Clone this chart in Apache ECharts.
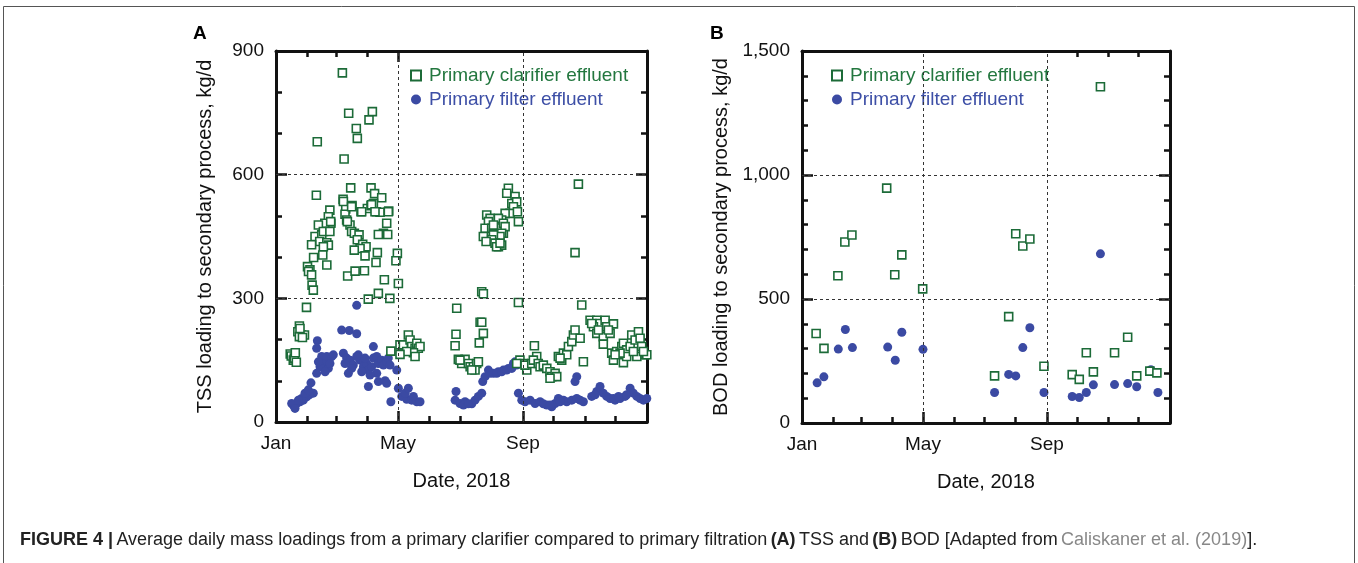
<!DOCTYPE html>
<html>
<head>
<meta charset="utf-8">
<script src="https://cdn.jsdelivr.net/npm/echarts@6/dist/echarts.min.js"></script>
<style>
html,body{margin:0;padding:0;background:#fff;}
#chart{width:1358px;height:563px;}
</style>
</head>
<body>
<div id="chart"></div>
<script>
// ---------- DATA (day of year 2018, kg/d) ----------
const monthStarts = [31, 59, 90, 151, 181, 212, 273, 304, 334];
const majorMonthDays = [120, 243];
const monthLabelDays = [0, 120, 243];
const monthLabels = ['Jan', 'May', 'Sep'];
const seriesNames = ['Primary clarifier effluent', 'Primary filter effluent'];

// Panel A: TSS, primary clarifier effluent
const tssClarifier = [
  [14,165],[15,160],[17,150],[18,155],[20,145],[19,168],
  [23,233],[21.5,219],[25,211],[28,211],[23,207],[26,205],[23.6,227],
  [30,278],[31,377],[33.4,369],[32,365],[35,357],[35.5,332],[36.7,320],
  [40.6,680],[39.7,550],[38.4,450],[45,454],[43,438],[50,435],[35,430],[51.5,429],[46.6,425],
  [46,405],[37,399],[50,381],[53,514],[51.5,498],[54,482],[48,482],[41.7,478],[46.6,462],[53,462],[53.8,486],
  [65.3,847],[71.5,749],[94.8,753],[91.5,733],[79,712],[80,688],[67,638],[73.5,568],[93.5,568],
  [97,554],[104,544],[66,540],[74.8,525],[68.6,517],[83.6,510],[89.9,518],[93.5,525],[95.8,530],
  [98.8,510],[102.4,509],[110.9,512],[108.9,482],[67.9,504],[69.5,490],
  [66.3,535],[74.4,522],[84.3,510],[94,527],[97.4,510],[110.5,510],
  [105.7,458],[100.7,455],[109.9,455],[72.8,478],[70.2,486],[74.4,462],[77.1,458],[81.7,454],[80,442],
  [85.3,431],[88.6,425],[82.7,421],[77,417],[87.6,403],[99.7,411],[98.4,387],[119.4,409],[118,391],
  [70.5,354],[77.8,366],[87,367],[106.6,345],[120.4,336],[100.7,312],[90.8,298],[112,300],
  [122,187],[125.3,187],[130.2,211],[131.9,199],[133.5,183],[136.8,179],[138.5,191],[140,179],[141.7,183],
  [135.2,168],[136.8,159],[128.6,171],[122,164],[113,172],
  [177.8,276],[177.1,213],[176.2,185],[204,215],[200,192],[200.8,242],[202.4,242],[202.4,316],[204,311],
  [238.5,290],[300.8,284],[294.2,411],
  [179.4,152],[182.7,142],[186,152],[189.3,142],[191,134],[194.2,134],[197.5,142],[195.8,126],[192.6,126],[181,150],[199.1,146],
  [228.6,567],[227,555],[235.2,547],[232,530],[236.8,534],[233.6,522],[230.3,506],[237.5,510],[225.4,506],
  [238.5,486],[222,490],[218.8,494],[207.3,502],[210.6,494],[209,486],[205.7,470],[212.2,470],[213.9,458],
  [223.7,458],[204,450],[213.9,478],[223.7,482],[225.4,474],[222,458],[220.4,450],[213.9,454],[212.2,442],
  [215.5,434],[218.8,425],[222,429],[206.7,438],[217,425],[220.4,434],[297.5,577],
  [240,150],[243.4,142],[246.7,126],[245,138],[236.8,142],[254.2,185],[256.5,159],[251.6,142],[253.2,150],
  [258,142],[259.8,134],[263,138],[266.4,130],[269.6,122],[271.3,110],[274.6,118],[276.2,110],[269.6,106],
  [277.8,159],[281.1,150],[282.8,167],[286,163],[287.7,183],[291,195],[292.6,211],[294.2,223],[299.2,203],
  [302.4,146],[279.5,155],
  [309,247],[315.6,247],[318.8,239],[323.8,247],[325.4,231],[332,238],[312.3,231],[315.6,215],[322,207],
  [328.7,215],[322,189],[310.6,239],[317.2,223],[327,223],
  [330.3,167],[335.2,171],[340.2,183],[341.8,191],[345,175],[348.4,183],[350,211],[353.3,199],[356.6,219],
  [358.2,203],[359.8,183],[363.1,163],[364.8,163],[332,150],[341.8,144],[345,159],[355,159],[361.5,171],
  [338.5,167],[333.6,163],[351.6,171]
];

// Panel A: TSS, primary filter effluent
const tssFilter = [
  [79.4,283],[64.6,223],[72.1,222],[79.4,214],[40.7,197],[40,179],[95.8,183],
  [44.9,159],[49.9,159],[54.8,159],[46.6,142],[51.5,130],[43.3,134],[48.3,122],[53.1,142],[41.7,146],[56.4,163],[40,118],
  [34.4,95],[36.7,70],[32.8,66],[30.2,61],[26.9,53],[23.6,49],[20.3,45],[17,41],[15.4,45],[18.7,33],[25.2,57],[22,53],[28.5,70],[31.8,78],
  [66.3,167],[69.5,155],[72.8,150],[76.1,138],[81,163],[82.7,150],[86,134],[89.2,142],[90.9,126],[94.1,134],
  [95.8,155],[99.1,159],[100.7,142],[104,150],[105.7,138],[108.9,146],[110.5,155],[112.2,138],[99.1,118],
  [92.5,114],[84.3,122],[71.2,118],[74.4,130],[67.9,142],[79.4,159],[87.6,155],
  [118.8,126],[90.9,86],[100.7,98],[107.3,100],[108.9,94],[113,49],
  [120.4,82],[123.7,62],[128.6,55],[133.5,53],[138.5,49],[141.7,49],[127,70],[130.2,82],[135.2,62],
  [177.1,74],[176.2,53],[181,45],[186,49],[192.6,44],[195.8,53],[199.1,62],[202.4,70],[184.4,41],[189.3,44],
  [203.4,98],[205.7,110],[209,126],[213.9,118],[218.8,122],[223.7,126],[228.6,130],[233.6,142],[236.8,138],
  [210.6,118],[217.2,118],[222,122],[227,126],[232,130],[235.2,146],[238.5,70],
  [241.8,53],[245,49],[250,53],[254.9,45],[259.8,49],[266.4,41],[271.3,37],[274.6,45],[277.8,57],[282.8,53],
  [286,49],[291,53],[295.9,57],[299.2,53],[302.4,49],[263,44],[269.6,41],[279.5,49],
  [294.2,98],[295.9,110],
  [310.6,62],[315.6,74],[318.8,86],[322,70],[325.4,62],[328.7,57],[333.6,53],[338.5,57],[343.4,62],[348.4,82],
  [351.6,70],[355,62],[358.2,57],[361.5,53],[364.8,57],[314,66],[332,57],[337,62],[345,66]
];

// Panel B: BOD, primary clarifier effluent
const bodClarifier = [
  [14,361],[21.8,301],[35.6,594],[42.5,730],[49.5,758],[84,947],[92,598],[99,678],[119.7,541],
  [191,190],[205,429],[212,763],[219,714],[226,742],[240,229],[268,195],[275,176],[282,283],
  [289,206],[296,1356],[310,283],[323,346],[332,190],[345,209],[352,202]
];
// Panel B: BOD, primary filter effluent
const bodFilter = [
  [15,162],[21.7,186],[36,298],[43,377],[50,304],[85,306],[92.5,253],[99,366],[120,297],
  [191,123],[205,196],[212,190],[219,304],[226,384],[240,123],[268,107],[275,103],[282,123],
  [289,154],[296,682],[310,155],[323,159],[332,146],[346,215],[353,123]
];

// ---------- STYLE ----------
const GREEN = '#1c6b38';
const BLUE = '#3b4aa3';
const GREEN_TXT = '#23773f';
const BLUE_TXT = '#3d4fa6';
const FONT = '"Liberation Sans", Arial, Helvetica, sans-serif';
const AXW = 3;
const TICK_FS = 19;
const NAME_FS = 20;

const grids = [
  {left: 276, top: 51, width: 371, height: 371},
  {left: 802, top: 51, width: 368, height: 372}
];

function xAxes(gi) {
  const base = {gridIndex: gi, type: 'value', min: 0, max: 365, splitLine: {show: false}};
  return [
    Object.assign({}, base, {
      position: 'bottom',
      axisLine: {show: true, onZero: false, lineStyle: {color: '#111', width: AXW}},
      axisTick: {show: true, inside: true, length: 11, customValues: majorMonthDays, lineStyle: {color: '#111', width: 2.5}},
      axisLabel: {show: true, customValues: monthLabelDays, margin: 12, fontSize: TICK_FS, color: '#111', fontFamily: FONT,
        formatter: v => monthLabels[monthLabelDays.indexOf(v)] || ''},
      name: 'Date, 2018', nameLocation: 'middle', nameGap: 49,
      nameTextStyle: {fontSize: NAME_FS, color: '#111', fontFamily: FONT}
    }),
    Object.assign({}, base, {
      position: 'bottom',
      axisLine: {show: false, onZero: false},
      axisTick: {show: true, inside: true, length: 6, customValues: monthStarts, lineStyle: {color: '#111', width: 2.5}},
      axisLabel: {show: false}
    }),
    Object.assign({}, base, {
      position: 'top',
      axisLine: {show: true, onZero: false, lineStyle: {color: '#111', width: AXW}},
      axisTick: {show: true, inside: true, length: 11, customValues: majorMonthDays, lineStyle: {color: '#111', width: 2.5}},
      axisLabel: {show: false}
    }),
    Object.assign({}, base, {
      position: 'top',
      axisLine: {show: false, onZero: false},
      axisTick: {show: true, inside: true, length: 6, customValues: monthStarts, lineStyle: {color: '#111', width: 2.5}},
      axisLabel: {show: false}
    })
  ];
}

function yAxes(gi, max, interval, minorInterval, nameText, gap, fmt) {
  const common = {
    gridIndex: gi, type: 'value', min: 0, max: max, interval: interval,
    splitLine: {show: false},
    axisLine: {show: true, onZero: false, lineStyle: {color: '#111', width: AXW}},
    axisTick: {show: true, inside: true, length: 11, lineStyle: {color: '#111', width: 2.5}}
  };
  const minor = {
    gridIndex: gi, type: 'value', min: 0, max: max, interval: minorInterval,
    splitLine: {show: false}, axisLabel: {show: false},
    axisLine: {show: false, onZero: false},
    axisTick: {show: true, inside: true, length: 6, lineStyle: {color: '#111', width: 2.5}}
  };
  return [
    Object.assign({}, common, {
      position: 'left',
      axisLabel: {show: true, margin: 12, fontSize: TICK_FS, color: '#111', fontFamily: FONT, formatter: fmt},
      name: nameText, nameLocation: 'middle', nameGap: gap, nameRotate: 90,
      nameTextStyle: {fontSize: NAME_FS, color: '#111', fontFamily: FONT}
    }),
    Object.assign({}, common, {position: 'right', axisLabel: {show: false}}),
    Object.assign({}, minor, {position: 'left'}),
    Object.assign({}, minor, {position: 'right'})
  ];
}

const gridLineStyle = {color: '#333', type: [3, 3], width: 1};
function markLines(xs, ys) {
  return {
    silent: true, symbol: 'none', label: {show: false}, animation: false,
    lineStyle: gridLineStyle,
    data: xs.map(v => ({xAxis: v})).concat(ys.map(v => ({yAxis: v})))
  };
}

function legend(left) {
  return {
    left: left, top: 53, orient: 'vertical', itemGap: 5,
    backgroundColor: '#fff', padding: [13, 6, 8, 6],
    itemWidth: 10, itemHeight: 10,
    textStyle: {fontSize: 19, fontFamily: FONT, padding: [0, 0, 0, 3]},
    data: [
      {name: seriesNames[0], textStyle: {color: GREEN_TXT}},
      {name: seriesNames[1], textStyle: {color: BLUE_TXT}}
    ],
    selectedMode: false
  };
}

function filterSeries(xi, yi, data, ml) {
  const s = {
    type: 'scatter', name: seriesNames[1], xAxisIndex: xi, yAxisIndex: yi,
    symbol: 'circle', symbolSize: 9, itemStyle: {color: BLUE, opacity: 1}, data: data, z: 2
  };
  if (ml) s.markLine = ml;
  return s;
}
function clarifierSeries(xi, yi, data) {
  return {
    type: 'scatter', name: seriesNames[0], xAxisIndex: xi, yAxisIndex: yi,
    symbol: 'rect', symbolSize: 8,
    itemStyle: {color: '#fff', borderColor: GREEN, borderWidth: 1.6, opacity: 1}, data: data, z: 3
  };
}

const chart = echarts.init(document.getElementById('chart'), null, {renderer: 'canvas'});
chart.setOption({
  animation: false,
  backgroundColor: '#fff',
  textStyle: {fontFamily: FONT},
  grid: grids,
  xAxis: xAxes(0).concat(xAxes(1)),
  yAxis: yAxes(0, 900, 300, 100, 'TSS loading to secondary process, kg/d', 61, v => String(v))
    .concat(yAxes(1, 1500, 500, 100, 'BOD loading to secondary process, kg/d', 71, v => v.toLocaleString('en-US'))),
  legend: [legend(404), legend(825)],
  series: [
    filterSeries(0, 0, tssFilter, markLines(majorMonthDays, [300, 600])),
    clarifierSeries(0, 0, tssClarifier),
    filterSeries(4, 4, bodFilter, markLines(majorMonthDays, [500, 1000])),
    clarifierSeries(4, 4, bodClarifier)
  ],
  graphic: [
    {type: 'rect', shape: {x: 3.5, y: 6.5, width: 1351, height: 620}, style: {fill: null, stroke: '#555', lineWidth: 1}, silent: true},
    {type: 'text', left: 193, top: 24, style: {text: 'A', font: 'bold 19px ' + FONT, fill: '#000'}},
    {type: 'text', left: 710, top: 24, style: {text: 'B', font: 'bold 19px ' + FONT, fill: '#000'}},
    {type: 'text', left: 20, top: 531, style: {
      text: '{b|FIGURE 4 |} {r|Average daily mass loadings from a primary clarifier compared to primary filtration} {b|(A)} {r|TSS and} {b|(B)} {r|BOD [Adapted from} {g|Caliskaner et al. (2019)}{r|].}',
      rich: {
        b: {fontFamily: FONT, fontWeight: 'bold', fontSize: 18, fill: '#222'},
        r: {fontFamily: FONT, fontSize: 18, fill: '#222'},
        g: {fontFamily: FONT, fontSize: 18, fill: '#888'}
      }
    }}
  ]
});
</script>
</body>
</html>
